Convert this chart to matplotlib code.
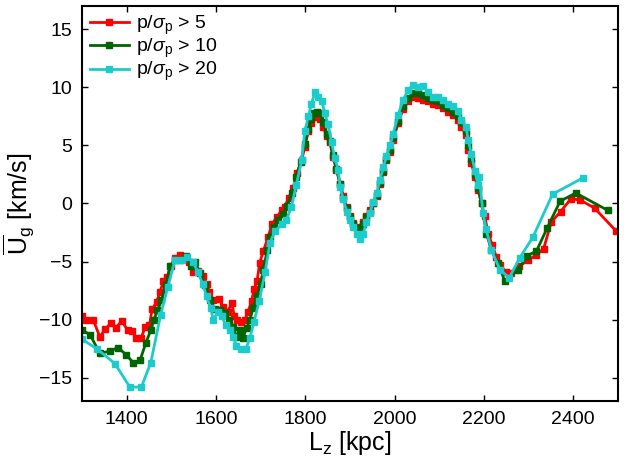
import matplotlib
matplotlib.use("Agg")
import matplotlib.pyplot as plt

plt.rcParams["font.family"] = ["Liberation Sans", "DejaVu Sans"]
plt.rcParams["mathtext.fontset"] = "custom"
plt.rcParams["mathtext.rm"] = "Liberation Sans"
plt.rcParams["mathtext.it"] = "Liberation Sans:italic"

# p/sigma_p > 5
lz_5 = [1300, 1310, 1325, 1340, 1352, 1365, 1376, 1389, 1402, 1412, 1422, 1432, 1442, 1451,
        1457, 1467, 1475, 1482, 1491, 1499, 1508, 1519, 1530, 1540, 1549, 1560, 1571, 1579,
        1585, 1594, 1607, 1616, 1626, 1636, 1641, 1648, 1657, 1665, 1672, 1680, 1685, 1692,
        1698, 1706, 1717, 1725, 1736, 1747, 1754, 1763, 1773, 1781, 1792, 1799, 1807, 1814,
        1820, 1825, 1833, 1840, 1848, 1855, 1862, 1870, 1878, 1885, 1893, 1900, 1907, 1915,
        1922, 1930, 1937, 1945, 1952, 1960, 1967, 1975, 1982, 1990, 1997, 2008, 2019, 2031,
        2042, 2053, 2064, 2075, 2086, 2098, 2109, 2120, 2131, 2142, 2150, 2160, 2165, 2172,
        2180, 2187, 2195, 2202, 2210, 2219, 2228, 2237, 2249, 2262, 2279, 2299, 2318, 2334,
        2351, 2372, 2395, 2416, 2448, 2497]
ug_5 = [-9.7, -10.0, -10.0, -11.5, -10.8, -10.3, -10.7, -10.1, -10.9, -11.0, -11.6, -11.6, -10.6, -10.5,
        -9.1, -8.5, -7.6, -6.7, -6.3, -5.4, -4.7, -4.4, -4.6, -5.0, -5.9, -5.8, -6.2, -6.9,
        -7.6, -8.3, -8.2, -8.9, -9.3, -8.6, -9.7, -10.0, -10.2, -10.0, -9.3, -8.4, -7.4, -6.7,
        -5.1, -4.1, -2.9, -1.8, -1.2, -0.6, -0.3, 0.5, 1.3, 2.6, 3.7, 4.9, 6.2, 6.9,
        7.4, 7.5, 7.3, 6.6, 5.8, 5.3, 4.0, 2.9, 1.7, 0.6, -0.3, -1.1, -1.7, -2.0,
        -2.1, -1.6, -1.1, -0.6, 0.0, 0.6, 1.7, 2.7, 3.7, 4.4, 5.5, 6.9, 8.1, 8.8,
        9.2, 9.1, 8.9, 8.8, 8.6, 8.5, 8.2, 7.9, 7.6, 7.2, 6.6, 5.9, 4.6, 3.5,
        2.3, 1.2, 0.0, -1.1, -2.6, -3.6, -4.6, -5.3, -5.9, -6.0, -5.4, -4.9, -4.4, -3.9,
        -1.6, -0.7, 0.4, 0.3, -0.4, -2.4]

# p/sigma_p > 10
lz_10 = [1300, 1318, 1340, 1363, 1381, 1398, 1415, 1430, 1443, 1454, 1461, 1469, 1478, 1488,
         1497, 1508, 1519, 1533, 1545, 1553, 1564, 1575, 1587, 1598, 1609, 1620, 1630, 1639,
         1646, 1654, 1660, 1669, 1676, 1683, 1692, 1700, 1706, 1715, 1721, 1730, 1740, 1750,
         1760, 1770, 1780, 1790, 1799, 1807, 1814, 1820, 1827, 1834, 1840, 1848, 1855, 1862,
         1870, 1878, 1885, 1893, 1900, 1907, 1915, 1922, 1930, 1937, 1945, 1952, 1960, 1967,
         1975, 1982, 1990, 1997, 2008, 2019, 2031, 2042, 2053, 2064, 2075, 2086, 2098, 2109,
         2120, 2131, 2142, 2150, 2160, 2165, 2172, 2180, 2187, 2195, 2206, 2217, 2232, 2247,
         2277, 2297, 2318, 2342, 2371, 2406, 2478]
ug_10 = [-10.9, -11.3, -12.9, -12.7, -12.4, -13.0, -13.7, -13.5, -12.0, -10.9, -10.0, -9.2, -8.3, -7.0,
         -5.4, -4.9, -4.9, -4.5, -5.4, -5.0, -6.0, -7.0, -8.3, -9.1, -9.2, -9.4, -10.0, -10.6,
         -11.5, -10.9, -11.6, -10.7, -10.0, -9.0, -8.0, -6.9, -5.7, -4.0, -2.9, -2.0, -1.4, -0.9,
         -0.2, 0.9, 2.3, 3.6, 5.1, 6.4, 7.3, 7.8, 7.9, 7.8, 7.0, 6.0, 5.4, 4.2,
         3.0, 1.7, 0.5, -0.4, -1.2, -1.8, -2.1, -2.3, -1.8, -1.2, -0.7, 0.0, 0.7, 1.8,
         2.8, 3.8, 4.6, 5.7, 7.1, 8.4, 9.1, 9.5, 9.5, 9.3, 9.1, 8.9, 8.8, 8.5,
         8.2, 7.9, 7.5, 7.0, 6.2, 5.0, 3.8, 2.5, 1.3, 0.0, -2.6, -4.0, -5.1, -6.7,
         -5.7, -4.5, -4.1, -2.1, 0.2, 0.9, -0.6]

# p/sigma_p > 20
lz_20 = [1300, 1333, 1374, 1407, 1433, 1454, 1476, 1492, 1508, 1523, 1536, 1548, 1560, 1570,
         1579, 1588, 1594, 1605, 1613, 1622, 1631, 1639, 1646, 1657, 1667, 1676, 1685, 1697,
         1710, 1721, 1732, 1747, 1758, 1769, 1780, 1792, 1799, 1807, 1814, 1822, 1829, 1837,
         1844, 1851, 1859, 1866, 1874, 1878, 1885, 1893, 1900, 1907, 1916, 1922, 1930, 1937,
         1945, 1952, 1960, 1967, 1975, 1982, 1990, 1997, 2008, 2019, 2031, 2042, 2053, 2064,
         2075, 2086, 2098, 2109, 2120, 2131, 2142, 2150, 2160, 2165, 2172, 2180, 2187, 2190,
         2198, 2205, 2217, 2236, 2257, 2280, 2310, 2354, 2422]
ug_20 = [-11.7, -12.5, -13.8, -15.8, -15.8, -13.7, -9.6, -7.2, -4.9, -4.9, -4.6, -5.0, -5.9, -6.9,
         -8.0, -9.0, -10.0, -9.3, -9.7, -10.5, -10.9, -11.5, -12.3, -12.5, -12.5, -11.6, -10.2, -8.4,
         -5.9, -3.4, -2.4, -1.8, -1.4, -0.3, 1.6, 3.7, 6.2, 7.5, 8.6, 9.6, 9.2, 8.8,
         7.8, 6.8, 5.3, 3.9, 2.9, 1.4, 0.4, -0.7, -1.4, -2.0, -2.6, -3.1, -2.6, -1.6,
         -0.8, 0.1, 0.9, 2.0, 3.1, 4.1, 5.0, 6.0, 7.6, 8.9, 9.8, 10.2, 10.0, 10.1,
         9.6, 9.2, 9.2, 8.9, 8.6, 8.4, 8.0, 7.2, 6.6, 5.5, 4.3, 2.8, 1.6, 2.3,
         -0.8, -2.2, -4.0, -5.7, -6.4, -4.7, -2.9, 0.8, 2.2]

series = [
    (lz_5, ug_5, "#ff0000", r"p/$\sigma_\mathrm{p}$ > 5"),
    (lz_10, ug_10, "#006400", r"p/$\sigma_\mathrm{p}$ > 10"),
    (lz_20, ug_20, "#1ccccc", r"p/$\sigma_\mathrm{p}$ > 20"),
]

fig = plt.figure(figsize=(6.31, 4.58), dpi=100)
ax = fig.add_axes([0.13, 0.1245, 0.849, 0.8625])

for lz, ug, color, label in series:
    ax.plot(lz, ug, color=color, marker="s", markersize=4.5, linewidth=2, label=label)

ax.set_xlim(1300, 2500)
ax.set_ylim(-17, 17)
ax.set_xticks([1400, 1600, 1800, 2000, 2200, 2400])
ax.set_yticks([-15, -10, -5, 0, 5, 10, 15])
ax.tick_params(direction="in", top=True, right=True, labelsize=14, length=4, width=1, pad=7)
for spine in ax.spines.values():
    spine.set_linewidth(1.5)

ax.set_xlabel(r"L$_\mathrm{z}$ [kpc]", fontsize=18, labelpad=1)
ax.set_ylabel(r"$\overline{\mathrm{U}}_\mathrm{g}$ [km/s]", fontsize=18, labelpad=2)

ax.legend(loc="upper left", frameon=False, fontsize=14, handlelength=2.0,
          borderaxespad=0.1, borderpad=0.3, labelspacing=0.0, handletextpad=0.4)

fig.savefig("out.png", dpi=100)
plt.close(fig)
